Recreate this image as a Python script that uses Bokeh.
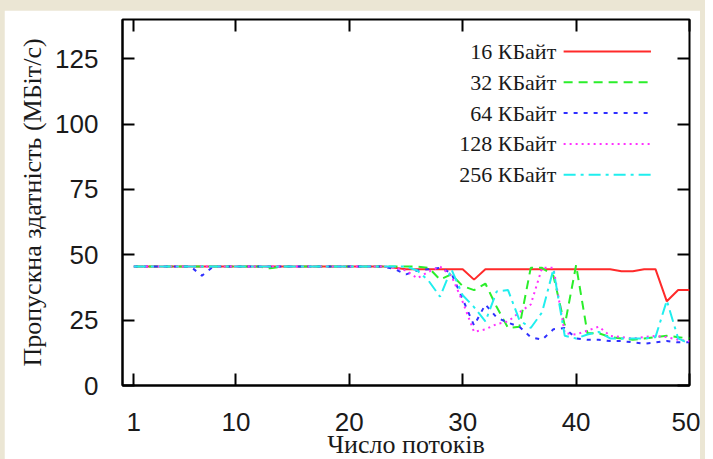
from bokeh.plotting import figure
from bokeh.models import LinearAxis, FixedTicker, Range1d
from bokeh.layouts import column
from bokeh.embed import file_html
from bokeh.resources import INLINE
from bokeh.core.properties import value

threads = list(range(1, 51))

kb16 = [45.5]*23 + [45.0, 44.5, 44.5, 44.5, 44.5, 44.5, 44.5, 40.5, 44.5, 44.5, 44.5,
                    44.5, 44.5, 44.5, 44.5, 44.5, 44.5, 44.5, 44.5, 44.5, 43.7, 43.7,
                    44.5, 44.5, 32.2, 36.5, 36.5]
kb32 = [45.5]*12 + [44.8] + [45.5]*11 + [45.5, 45.5, 45.0, 40.5, 42.5, 38.0, 36.5, 39.0,
                                        30.0, 22.0, 22.5, 45.0, 45.0, 42.0, 23.0, 46.0,
                                        20.0, 20.0, 18.5, 18.0, 17.5, 18.0, 18.5, 19.0,
                                        18.5, 18.0]
kb64 = [45.5]*6 + [42.0] + [45.5]*16 + [44.5, 42.5, 44.0, 44.5, 45.0, 43.0, 33.0, 23.0,
                                       31.0, 26.0, 24.0, 22.5, 18.5, 17.5, 21.5, 22.0,
                                       18.0, 17.5, 17.5, 17.0, 17.0, 16.5, 16.0, 16.5,
                                       17.0, 16.5, 16.5]
kb128 = [45.5]*23 + [45.0, 44.0, 41.0, 43.5, 45.5, 42.0, 32.0, 20.5, 21.5, 23.5, 24.5,
                     28.0, 31.0, 45.0, 45.0, 20.0, 19.5, 21.0, 22.5, 19.0, 18.5, 18.0,
                     18.5, 19.0, 18.5, 17.5, 17.0]
kb256 = [45.5]*25 + [44.0, 40.0, 34.0, 44.5, 34.5, 30.0, 24.5, 36.0, 36.5, 25.0, 22.0,
                     28.0, 44.5, 19.0, 18.0, 19.5, 20.5, 18.0, 18.0, 18.0, 18.0, 18.5,
                     32.5, 18.0, 16.0]

series_names = ["16 КБайт", "32 КБайт", "64 КБайт", "128 КБайт", "256 КБайт"]
series_values = [kb16, kb32, kb64, kb128, kb256]
x_ticks = [1, 10, 20, 30, 40, 50]
y_ticks = [0, 25, 50, 75, 100, 125]

colors = ["#ff2a2a", "#2aee2a", "#3030ff", "#ff30ff", "#20eeee"]
dashes = ["solid", "9 6", "4 6", "2 4", "12 5 3 5"]

CREAM = "#ebe6d4"
TXT = "#1a1a1a"

p = figure(width=696, height=455, x_range=Range1d(0, 50), y_range=Range1d(0, 140),
           output_backend="svg", toolbar_location=None,
           min_border_left=118, min_border_right=11, min_border_top=9, min_border_bottom=80,
           x_axis_label="Число потоків", y_axis_label="Пропускна здатність (МБіт/с)")
p.background_fill_color = "white"
p.border_fill_color = "white"
p.outline_line_color = "black"
p.outline_line_width = 2
p.xgrid.visible = False
p.ygrid.visible = False

for ax in (p.xaxis[0], p.yaxis[0]):
    ax.major_tick_in = 12
    ax.major_tick_out = 0
    ax.minor_tick_line_color = None
    ax.major_tick_line_width = 2
    ax.axis_line_width = 2
    ax.major_label_text_font = "Liberation Sans"
    ax.major_label_text_font_size = "26px"
    ax.major_label_text_color = TXT
    ax.axis_label_text_font = "Liberation Serif"
    ax.axis_label_text_font_size = "26px"
    ax.axis_label_text_font_style = "normal"
    ax.axis_label_text_color = TXT

p.xaxis[0].ticker = FixedTicker(ticks=x_ticks)
p.yaxis[0].ticker = FixedTicker(ticks=y_ticks)
p.xaxis[0].major_label_standoff = 27
p.xaxis[0].axis_label_standoff = -4
p.yaxis[0].major_label_standoff = 24
p.yaxis[0].axis_label_standoff = 5

top = LinearAxis(ticker=FixedTicker(ticks=x_ticks),
                 major_label_overrides={t: "" for t in x_ticks})
right = LinearAxis(ticker=FixedTicker(ticks=y_ticks),
                   major_label_overrides={t: "" for t in y_ticks})
for ax in (top, right):
    ax.major_tick_in = 12
    ax.major_tick_out = 0
    ax.minor_tick_line_color = None
    ax.major_tick_line_width = 2
    ax.axis_line_color = None
    ax.major_label_text_font_size = "10px"
    ax.major_label_standoff = 0
p.add_layout(top, "above")
p.add_layout(right, "right")

for vals, c, d in zip(series_values, colors, dashes):
    p.line(threads, vals, line_color=c, line_width=2, line_dash=d)

# legend (gnuplot style: label then sample)
leg_x_text = 38.25
leg_x0, leg_x1 = 38.9, 46.6
leg_top, leg_step = 127.8, 11.8
for i, (name, c, d) in enumerate(zip(series_names, colors, dashes)):
    yy = leg_top - i * leg_step
    p.text(x=[leg_x_text], y=[yy], text=[name], text_align="right", text_baseline="middle",
           text_font=value("Liberation Serif"), text_font_size="22px", text_color=TXT)
    p.line([leg_x0, leg_x1], [yy, yy], line_color=c, line_width=2, line_dash=d)

layout = column(p, styles={"background-color": CREAM, "padding": "10px 5px 0px 4px"})

open("out.html", "w").write(file_html(layout, INLINE))
